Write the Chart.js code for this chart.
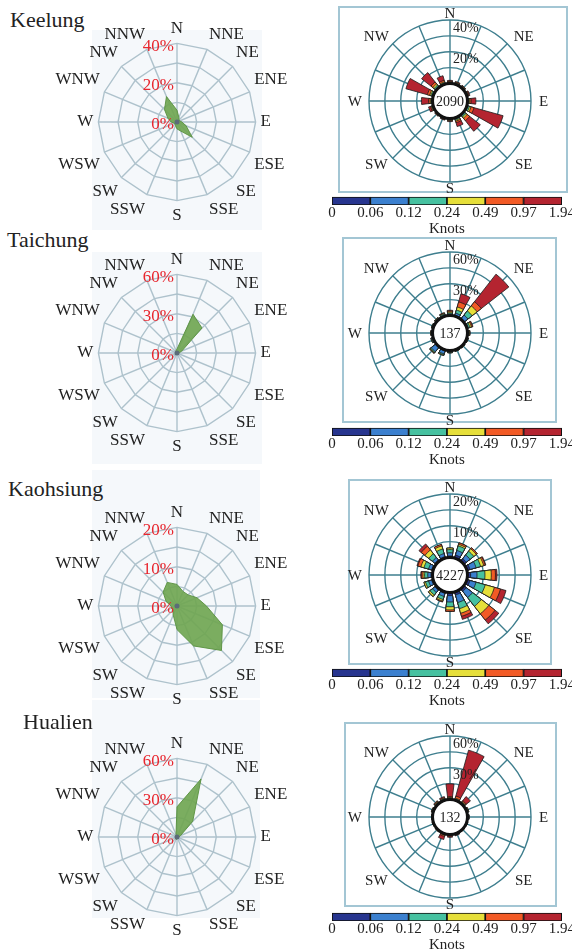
<!DOCTYPE html>
<html lang="en">
<head>
<meta charset="UTF-8" />
<title>Wind direction frequency and wind roses</title>
<style>
  body {
    margin: 0;
    width: 572px;
    height: 952px;
    position: relative;
    overflow: hidden;
    background: #fff;
    font-family: "Liberation Serif", "Times New Roman", serif;
  }
  .station {
    position: absolute;
    font-size: 22px;
    line-height: 1;
    color: #222;
  }
  .plate {
    position: absolute;
    background: #f5f8fb;
  }
  .box {
    position: absolute;
    box-sizing: border-box;
    border: 2px solid #a3c6d4;
    background: #fff;
  }
  canvas {
    position: absolute;
  }
</style>
</head>
<body>
<script src="https://cdn.jsdelivr.net/npm/chart.js"></script>
<script>
  const dirs = ['N','NNE','NE','ENE','E','ESE','SE','SSE','S','SSW','SW','WSW','W','WNW','NW','NNW'];
  const stations = ['Keelung', 'Taichung', 'Kaohsiung', 'Hualien'];
  const knotTicks = ['0', '0.06', '0.12', '0.24', '0.49', '0.97', '1.94'];

  // left column: frequency (%) per direction, N..NNW
  const keelungFreq   = [6, 2.5, 1.5, 1.5, 2.5, 5, 11, 5, 3.5, 2, 1.5, 1.5, 3, 5, 9, 14];
  const taichungFreq  = [3, 32, 27, 4, 1.5, 1, 1, 1, 1, 1, 2, 1, 1, 1, 1, 2];
  const kaohsiungFreq = [5.5, 4, 4, 5.5, 7.5, 12.5, 16, 11, 6, 2.5, 1.5, 1.5, 1.5, 3, 5, 6.5];
  const hualienFreq   = [23, 48, 17, 3, 1.5, 1, 1, 1, 1.5, 2, 1, 0.5, 0.5, 0.5, 1, 2];
  const freqMax    = [40, 60, 20, 60];
  const freqLabels = [[0, 20, 40], [0, 30, 60], [0, 10, 20], [0, 30, 60]];

  // right column: frequency (%) per speed class (one row per class), N..NNW
  const keelungRose = [
    [0.2,0.2,0.2,0.2,0.2,0.2,0.2,0.2,0.2,0.2,0.2,0.2,0.2,0.2,0.2,0.2],
    [0.3,0.3,0.3,0.3,0.3,0.5,0.5,0.5,0.3,0.3,0.2,0.3,0.3,0.5,0.5,0.3],
    [0.3,0.3,0.3,0.3,0.5,1.0,1.0,0.8,0.4,0.3,0.2,0.4,0.5,0.8,1.0,0.5],
    [0.3,0.3,0.2,0.3,0.5,1.0,1.0,0.7,0.3,0.2,0.2,0.4,0.5,0.8,1.0,0.5],
    [0.4,0.3,0.2,0.3,0.8,2.0,2.0,1.0,0.3,0.2,0.2,0.5,1.0,1.5,1.5,1.0],
    [0.5,0.4,0.3,0.6,3.0,19,8.5,2.5,0.5,0.3,0.2,1.2,4.5,14,7.5,3.0]
  ];
  const taichungRose = [
    [0.5,1,1,0.5,0.5,0.5,0.5,0.5,0.5,1,1,0.5,0.5,0.5,0.5,0.5],
    [1,2,4,1,0.5,0.5,0.5,0.5,1,3,5,1,0.5,0.5,0.5,0.8],
    [1,3,5,1.5,0.5,0.3,0.3,0.3,0.5,1,1,0.5,0.5,0.5,0.5,0.8],
    [1,3,6,1.5,0.5,0.2,0.2,0.2,0.2,0.5,0.5,0.2,0.2,0.2,0.3,0.5],
    [1,5,5,1,0.3,0,0,0,0,0,0.2,0,0,0,0.2,0.4],
    [0.5,8,33,0.5,0.2,0,0,0,0,0,0.3,0,0,0,0,0.5]
  ];
  const kaohsiungRose = [
    [0.5,1,1,1,1,1,1,1,1,0.5,0.5,0.5,0.5,0.5,0.5,0.5],
    [1,1.5,1.5,2,2,2,2.5,2.5,2,1,1,1,1,1,1,1],
    [1,1.5,1.5,1.5,2.5,3,3.5,2,1.5,1,1,1,1,1.5,1.5,1.5],
    [0.5,0.5,1,1,2,3,3,1.5,1,0.5,0.6,0.5,0.5,1,1.5,1],
    [0,0.5,0.4,0.5,1.3,2,2.5,1,0.5,0.3,0,0,0.5,1,1.5,0.5],
    [0,0,0,0.2,0.5,1.8,1.5,1,0,0,0,0,0.2,0.3,0.9,0]
  ];
  const hualienRose = [
    [0.3,0.3,0.5,0.5,0.5,0.3,0.3,0.3,0.3,0.3,0.3,0.3,0.3,0.3,0.5,0.5],
    [0.5,0.5,0.5,0.5,0.5,0.3,0.3,0.3,0.3,0.3,0.3,0.3,0.3,0.5,0.5,0.5],
    [0.5,0.5,0.5,0.5,0.3,0.2,0.2,0.3,0.3,0.5,0.3,0.2,0.2,0.5,0.5,0.5],
    [0.5,0.7,0.5,0.3,0.2,0.2,0.2,0.3,0.3,0.5,0.2,0.2,0.2,0.3,0.5,0.5],
    [1,2,1,0.2,0,0,0,0.3,0.5,1,0,0,0,0.2,0.5,0.5],
    [12,45,5,0,0,0,0,0.5,1,3,0,0,0,0,0.5,1]
  ];
  const roseMax    = [40, 60, 20, 60];
  const roseStep   = [10, 15, 5, 15];
  const roseLabels = [[20, 40], [30, 60], [10, 20], [30, 60]];
  const roseTotals = ['2090', '137', '4227', '132'];

  const freqSets = [keelungFreq, taichungFreq, kaohsiungFreq, hualienFreq];
  const roseSets = [keelungRose, taichungRose, kaohsiungRose, hualienRose];

  const binColors = ['#27358f', '#3b80cf', '#46c1a0', '#e6df3a', '#f25a25', '#b42430'];
  const roseGrid = '#3e7e8e';
  const barAngle = 14;
  const R = 81;

  // page placement of each row (titles, panels, colour bars)
  const layout = [
    {title: [10, 9],   radar: [175, 122], plate: [92, 30, 170, 200],  box: [338, 6, 230, 187],   rose: [450, 101], bar: 197},
    {title: [7, 229],  radar: [175, 353], plate: [92, 252, 170, 212], box: [342, 237, 215, 186], rose: [450, 333], bar: 428},
    {title: [8, 478],  radar: [175, 606], plate: [92, 470, 168, 228], box: [348, 479, 204, 186], rose: [450, 575], bar: 669},
    {title: [23, 711], radar: [175, 837], plate: [92, 700, 168, 218], box: [344, 722, 213, 185], rose: [450, 817], bar: 913}
  ];

  Chart.defaults.font.family = "'Liberation Serif', 'Times New Roman', serif";
  Chart.defaults.color = '#222';

  function addEl(cls, x, y, w, h) {
    const d = document.createElement('div');
    d.className = cls;
    d.style.left = x + 'px';
    d.style.top = y + 'px';
    if (w) { d.style.width = w + 'px'; d.style.height = h + 'px'; }
    document.body.appendChild(d);
    return d;
  }

  function addCanvas(x, y, w, h) {
    const c = document.createElement('canvas');
    c.width = w;
    c.height = h;
    c.style.left = x + 'px';
    c.style.top = y + 'px';
    document.body.appendChild(c);
    return c;
  }

  // red percentage labels left of the north axis + small hub dot
  const redTicks = {
    id: 'redTicks',
    afterDraw(chart, args, opts) {
      const s = chart.scales.r;
      const ctx = chart.ctx;
      ctx.save();
      ctx.font = "17px 'Liberation Serif'";
      ctx.fillStyle = '#e8262e';
      ctx.textAlign = 'right';
      ctx.textBaseline = 'middle';
      opts.values.forEach(v => {
        const y = s.yCenter - s.getDistanceFromCenterForValue(v);
        ctx.fillText(v + '%', s.xCenter - 3, y + 3);
      });
      ctx.fillStyle = '#5b6b78';
      ctx.beginPath();
      ctx.arc(s.xCenter, s.yCenter, 2.5, 0, Math.PI * 2);
      ctx.fill();
      ctx.restore();
    }
  };

  // spokes, central hole with record count, ring labels and compass letters
  const roseDecor = {
    id: 'roseDecor',
    beforeDatasetsDraw(chart) {
      const s = chart.scales.r;
      const ctx = chart.ctx;
      const r0 = s.getDistanceFromCenterForValue(0);
      const r1 = s.drawingArea;
      ctx.save();
      ctx.strokeStyle = roseGrid;
      ctx.lineWidth = 1.4;
      dirs.forEach((d, i) => {
        const a = i * Math.PI / 8;
        const sx = Math.sin(a), sy = -Math.cos(a);
        ctx.beginPath();
        ctx.moveTo(s.xCenter + sx * r0, s.yCenter + sy * r0);
        ctx.lineTo(s.xCenter + sx * r1, s.yCenter + sy * r1);
        ctx.stroke();
      });
      ctx.restore();
    },
    afterDatasetsDraw(chart, args, opts) {
      const s = chart.scales.r;
      const ctx = chart.ctx;
      const cx = s.xCenter, cy = s.yCenter, rr = s.drawingArea;
      const r0 = s.getDistanceFromCenterForValue(0);
      ctx.save();
      ctx.beginPath();
      ctx.arc(cx, cy, r0, 0, Math.PI * 2);
      ctx.fillStyle = '#fff';
      ctx.fill();
      ctx.lineWidth = 3;
      ctx.strokeStyle = '#111';
      ctx.stroke();

      ctx.fillStyle = '#222';
      ctx.font = "14px 'Liberation Serif'";
      ctx.textAlign = 'center';
      ctx.textBaseline = 'middle';
      ctx.fillText(opts.total, cx, cy + 1);

      ctx.textAlign = 'left';
      ctx.textBaseline = 'top';
      opts.labels.forEach(v => {
        ctx.fillText(v + '%', cx + 3, cy - s.getDistanceFromCenterForValue(v) + 1);
      });

      ctx.font = "15px 'Liberation Serif'";
      ctx.textBaseline = 'alphabetic';
      ctx.textAlign = 'center';
      ctx.fillText('N', cx, cy - rr - 2);
      ctx.fillText('S', cx, cy + rr + 11);
      ctx.textBaseline = 'middle';
      ctx.textAlign = 'right';
      ctx.fillText('W', cx - rr - 7, cy + 1);
      ctx.textAlign = 'left';
      ctx.fillText('E', cx + rr + 8, cy + 1);
      ctx.textAlign = 'center';
      const dx = rr * 0.91, dy = rr * 0.79;
      ctx.fillText('NW', cx - dx, cy - dy);
      ctx.fillText('NE', cx + dx, cy - dy);
      ctx.fillText('SW', cx - dx, cy + dy);
      ctx.fillText('SE', cx + dx, cy + dy);
      ctx.restore();
    }
  };

  function roseDatasets(rows, min) {
    const sets = [];
    let run = dirs.map(() => 0);
    rows.forEach((row, j) => {
      run = run.map((v, i) => v + row[i]);
      const data = [];
      run.forEach(v => { data.push(v); data.push(min); });
      sets.push({
        data: data,
        backgroundColor: ctx => ctx.dataIndex % 2 ? 'rgba(0,0,0,0)' : binColors[j],
        borderColor: '#1a1a1a',
        borderWidth: ctx => ctx.dataIndex % 2 ? 0 : 0.8,
        angle: ctx => ctx.dataIndex % 2 ? 22.5 - barAngle : barAngle
      });
    });
    return sets;
  }

  // background plates first so they stay underneath everything
  layout.forEach(L => addEl('plate', L.plate[0], L.plate[1], L.plate[2], L.plate[3]));

  layout.forEach((L, k) => {
    const t = addEl('station', L.title[0], L.title[1]);
    t.textContent = stations[k];

    // left: frequency radar
    const rc = addCanvas(L.radar[0] - 140, L.radar[1] - 104, 280, 209);
    new Chart(rc, {
      type: 'radar',
      data: {
        labels: dirs,
        datasets: [{
          data: freqSets[k],
          backgroundColor: 'rgba(112,166,82,0.92)',
          borderColor: 'rgba(92,146,66,0.95)',
          borderWidth: 1,
          pointRadius: 0,
          fill: true
        }]
      },
      options: {
        responsive: false,
        animation: false,
        events: [],
        plugins: {
          legend: { display: false },
          tooltip: { enabled: false },
          redTicks: { values: freqLabels[k] }
        },
        scales: {
          r: {
            min: 0,
            max: freqMax[k],
            ticks: { display: false, stepSize: freqMax[k] / 4 },
            grid: { color: '#aec2cc', lineWidth: 1.4 },
            angleLines: { color: '#aec2cc', lineWidth: 1.4 },
            pointLabels: { font: { size: 17 }, color: '#222', padding: 5 }
          }
        }
      },
      plugins: [redTicks]
    });

    // right: wind rose
    const b = L.box;
    addEl('box', b[0], b[1], b[2], b[3]);
    const m = 8;
    const cx = L.rose[0] - (b[0] - m), cy = L.rose[1] - (b[1] - m);
    const W = b[2] + 2 * m, H = b[3] + 2 * m;
    const rmin = -1.1 * roseStep[k];
    const wc = addCanvas(b[0] - m, b[1] - m, W, H);
    new Chart(wc, {
      type: 'polarArea',
      data: {
        labels: dirs.flatMap(d => [d, '']),
        datasets: roseDatasets(roseSets[k], rmin)
      },
      options: {
        responsive: false,
        animation: false,
        events: [],
        layout: { padding: { left: cx - R, right: W - cx - R, top: cy - R, bottom: H - cy - R } },
        plugins: {
          legend: { display: false },
          tooltip: { enabled: false },
          roseDecor: { total: roseTotals[k], labels: roseLabels[k] }
        },
        scales: {
          r: {
            min: rmin,
            max: roseMax[k],
            startAngle: -barAngle / 2,
            ticks: { display: false, stepSize: roseStep[k] },
            grid: {
              circular: true,
              lineWidth: 1.4,
              color: ctx => (ctx.tick && ctx.tick.value > 0) ? roseGrid : 'rgba(0,0,0,0)'
            },
            angleLines: { display: false },
            pointLabels: { display: false }
          }
        }
      },
      plugins: [roseDecor]
    });

    // colour bar for wind speed classes: four 8px category bands, bar in the lowest
    const bc = addCanvas(310, L.bar - 24, 266, 64);
    new Chart(bc, {
      type: 'bar',
      data: {
        labels: ['', '', '', ''],
        datasets: binColors.map(c => ({
          data: [null, null, null, 1],
          backgroundColor: c,
          borderColor: '#111',
          borderWidth: 1.2,
          borderSkipped: false,
          barPercentage: 1,
          categoryPercentage: 1
        }))
      },
      options: {
        indexAxis: 'y',
        responsive: false,
        animation: false,
        events: [],
        layout: { padding: { left: 22, right: 13, top: 0, bottom: 0 } },
        plugins: { legend: { display: false }, tooltip: { enabled: false } },
        scales: {
          x: {
            stacked: true,
            min: 0,
            max: 6,
            grid: { display: false, drawTicks: false },
            border: { display: false },
            ticks: {
              stepSize: 1,
              padding: 1,
              autoSkip: false,
              maxRotation: 0,
              font: { size: 15, lineHeight: 1 },
              color: '#222',
              callback: v => knotTicks[v]
            },
            title: { display: true, text: 'Knots', font: { size: 15, lineHeight: 1 }, padding: 0, color: '#222' }
          },
          y: { stacked: true, display: false }
        }
      }
    });
  });
</script>
</body>
</html>
